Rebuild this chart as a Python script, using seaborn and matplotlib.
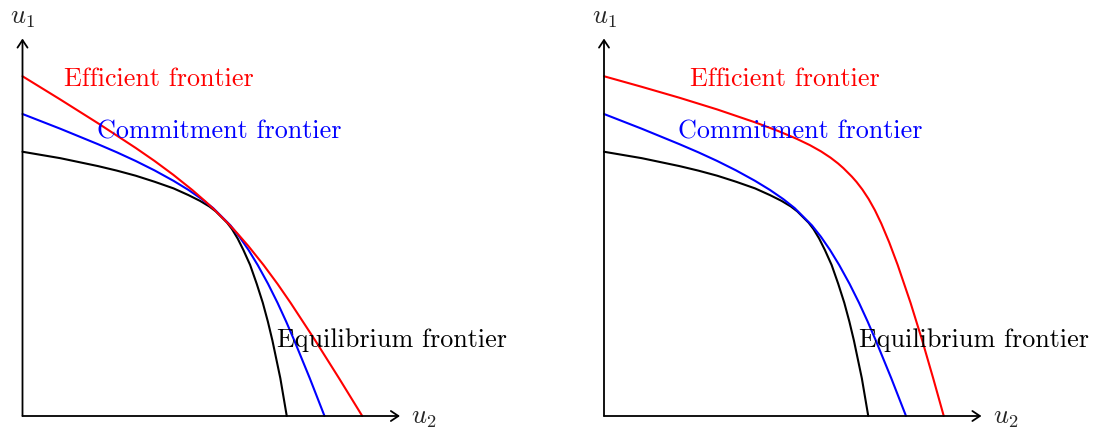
import seaborn as sns
import matplotlib.pyplot as plt

# points (u2 along x, u1 along y)
eq_u2 = [0, 1, 2, 2.5, 3, 3.5, 4, 4.4, 4.7, 4.95, 5.12,
         5.42, 5.55, 5.7, 5.85, 6.03, 6.205, 6.365, 6.5, 6.62, 6.83, 7]
eq_u1 = [7, 6.83, 6.62, 6.5, 6.365, 6.205, 6.03, 5.85, 5.7, 5.55, 5.42,
         5.12, 4.95, 4.7, 4.4, 4, 3.5, 3, 2.5, 2, 1, 0]

com_u2 = [0, 1, 2, 2.5, 3, 3.5, 4, 4.4, 4.75, 5.05,
          5.508, 5.745, 5.986, 6.23, 6.505, 6.755, 6.985, 7.2, 7.61, 8]
com_u1 = [8, 7.61, 7.2, 6.985, 6.755, 6.505, 6.23, 5.986, 5.745, 5.508,
          5.05, 4.75, 4.4, 4, 3.5, 3, 2.5, 2, 1, 0]

# efficient frontier, left panel (touches the others)
eff_left_u2 = [0, 1, 2, 3, 3.5, 4, 4.5, 4.85, 5.1,
               5.448, 5.68, 5.985, 6.385, 6.755, 7.1, 7.755, 8.385, 9]
eff_left_u1 = [9, 8.385, 7.755, 7.1, 6.755, 6.385, 5.985, 5.68, 5.448,
               5.1, 4.85, 4.5, 4, 3.5, 3, 2, 1, 0]

# efficient frontier, right panel (well outside)
eff_right_u2 = [0, 1, 2, 3, 4, 4.6, 5.1, 5.45, 5.75, 6.0, 6.2, 6.34,
                6.567, 6.69, 6.844, 7.009, 7.177, 7.345, 7.555, 7.78, 8.12, 8.43, 8.72, 9]
eff_right_u1 = [9, 8.72, 8.43, 8.12, 7.78, 7.555, 7.345, 7.177, 7.009, 6.844, 6.69, 6.567,
                6.34, 6.2, 6.0, 5.75, 5.45, 5.1, 4.6, 4, 3, 2, 1, 0]

labels = ["Efficient frontier", "Commitment frontier", "Equilibrium frontier"]
label_x_left = [3.6, 5.2, 9.8]
label_x_right = [4.8, 5.2, 9.8]
label_y = [8.93, 7.53, 2.0]

sns.set_style("white")
plt.rcParams['font.family'] = ['cmr10', 'DejaVu Serif']
plt.rcParams['mathtext.fontset'] = 'cm'

W, H = 1096, 430
s = 37.75  # pixels per unit
fig = plt.figure(figsize=(W / 100, H / 100), dpi=100)

def panel(ox, eff_u2, eff_u1, lab_x):
    xlim = (-0.5, 13.0)
    ylim = (-0.3, 11.0)
    ax = fig.add_axes([(ox + xlim[0] * s) / W, (14 + ylim[0] * s) / H,
                       (xlim[1] - xlim[0]) * s / W, (ylim[1] - ylim[0]) * s / H])
    ax.set_xlim(xlim)
    ax.set_ylim(ylim)
    ax.set_axis_off()

    arrow = dict(arrowstyle='->,head_length=0.45,head_width=0.3', lw=1.3, color='black',
                 shrinkA=0, shrinkB=0, mutation_scale=12)
    ax.annotate('', xy=(10, 0), xytext=(0, 0), arrowprops=arrow)
    ax.annotate('', xy=(0, 10), xytext=(0, 0), arrowprops=arrow)
    ax.text(0, 10.55, r'$u_1$', ha='center', va='center', fontsize=19)
    ax.text(10.3, -0.05, r'$u_2$', ha='left', va='center', fontsize=19)

    sns.lineplot(x=eq_u2, y=eq_u1, ax=ax, color='black', lw=1.5, sort=False, estimator=None)
    sns.lineplot(x=com_u2, y=com_u1, ax=ax, color='blue', lw=1.5, sort=False, estimator=None)
    sns.lineplot(x=eff_u2, y=eff_u1, ax=ax, color='red', lw=1.5, sort=False, estimator=None)

    for txt, x, y, c in zip(labels, lab_x, label_y, ['red', 'blue', 'black']):
        ax.text(x, y, txt, color=c, ha='center', va='center', fontsize=18.8)

panel(22.5, eff_left_u2, eff_left_u1, label_x_left)
panel(604, eff_right_u2, eff_right_u1, label_x_right)

plt.savefig('out.png', dpi=100)
